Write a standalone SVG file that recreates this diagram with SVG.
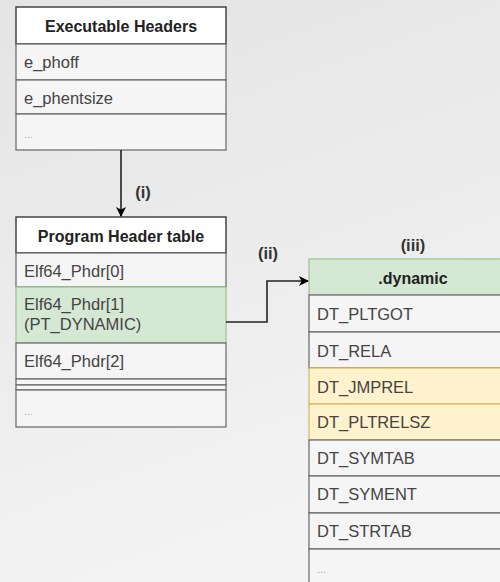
<svg xmlns="http://www.w3.org/2000/svg" width="500" height="582" viewBox="0 0 500 582">
<defs>
<linearGradient id="bg" x1="0" y1="0" x2="0.3" y2="1">
<stop offset="0" stop-color="#e4e4e4"/>
<stop offset="1" stop-color="#f3f3f3"/>
</linearGradient>
<marker id="arr" markerWidth="10" markerHeight="10" refX="9" refY="5" orient="auto" markerUnits="userSpaceOnUse">
<path d="M0,0 L10,5 L0,10 L2.5,5 Z" fill="#000"/>
</marker>
<style>
.hdr{fill:#ffffff;stroke:#444;stroke-width:1.5}
.row{fill:#f5f5f5;stroke:#666;stroke-width:1.2}
.grn{fill:#d5e8d4;stroke:#9ac28a;stroke-width:1.2}
.yel{fill:#fff2cc;stroke:#d6b656;stroke-width:1.2}
.ht{font-family:"Liberation Sans",Arial,sans-serif;font-size:16px;font-weight:bold;fill:#222;text-anchor:middle}
.t{font-family:"Liberation Sans",Arial,sans-serif;font-size:16.5px;fill:#444}
.dots{font-family:"Liberation Sans",Arial,sans-serif;font-size:11px;fill:#aaa}
.lbl{font-family:"Liberation Sans",Arial,sans-serif;font-size:16.5px;font-weight:bold;fill:#333;text-anchor:middle}
.edge{fill:none;stroke:#222;stroke-width:1.6}
</style>
</defs>
<rect width="500" height="582" fill="url(#bg)"/>

<g id="exec-headers">
<rect class="hdr" x="16" y="7" width="210" height="37"/>
<text class="ht" x="121" y="32">Executable Headers</text>
<rect class="row" x="16" y="44" width="210" height="36"/>
<text class="t" x="24" y="68">e_phoff</text>
<rect class="row" x="16" y="80" width="210" height="34"/>
<text class="t" x="24" y="104">e_phentsize</text>
<rect class="row" x="16" y="114" width="210" height="36"/>
<text class="dots" x="24" y="138">...</text>
</g>

<g id="program-header-table">
<rect class="hdr" x="16" y="217" width="210" height="36"/>
<text class="ht" x="121" y="242">Program Header table</text>
<rect class="row" x="16" y="253" width="210" height="34"/>
<text class="t" x="24" y="277">Elf64_Phdr[0]</text>
<rect class="grn" x="16" y="287" width="210" height="56"/>
<text class="t" x="24" y="310">Elf64_Phdr[1]</text>
<text class="t" x="24" y="330">(PT_DYNAMIC)</text>
<rect class="row" x="16" y="343" width="210" height="36"/>
<text class="t" x="24" y="367">Elf64_Phdr[2]</text>
<rect class="row" x="16" y="379" width="210" height="6"/>
<rect class="row" x="16" y="385" width="210" height="5"/>
<rect class="row" x="16" y="390" width="210" height="37"/>
<text class="dots" x="24" y="415">...</text>
</g>

<g id="dynamic">
<rect class="grn" x="309" y="259" width="210" height="36"/>
<text class="ht" x="413" y="284">.dynamic</text>
<rect class="row" x="309" y="295" width="210" height="37"/>
<text class="t" x="317" y="320">DT_PLTGOT</text>
<rect class="row" x="309" y="332" width="210" height="36"/>
<text class="t" x="317" y="357">DT_RELA</text>
<rect class="yel" x="309" y="368" width="210" height="36"/>
<text class="t" x="317" y="393">DT_JMPREL</text>
<rect class="yel" x="309" y="404" width="210" height="36"/>
<text class="t" x="317" y="428">DT_PLTRELSZ</text>
<rect class="row" x="309" y="440" width="210" height="36"/>
<text class="t" x="317" y="464">DT_SYMTAB</text>
<rect class="row" x="309" y="476" width="210" height="37"/>
<text class="t" x="317" y="500">DT_SYMENT</text>
<rect class="row" x="309" y="513" width="210" height="36"/>
<text class="t" x="317" y="537">DT_STRTAB</text>
<rect class="row" x="309" y="549" width="210" height="40"/>
<text class="dots" x="317" y="573">...</text>
</g>

<g id="connectors">
<path class="edge" d="M121,150 L121,216" marker-end="url(#arr)"/>
<text class="lbl" x="143" y="198">(i)</text>
<path class="edge" d="M226,322 L267,322 L267,281 L308,281" marker-end="url(#arr)"/>
<text class="lbl" x="268" y="259">(ii)</text>
<text class="lbl" x="413" y="251">(iii)</text>
</g>
</svg>
